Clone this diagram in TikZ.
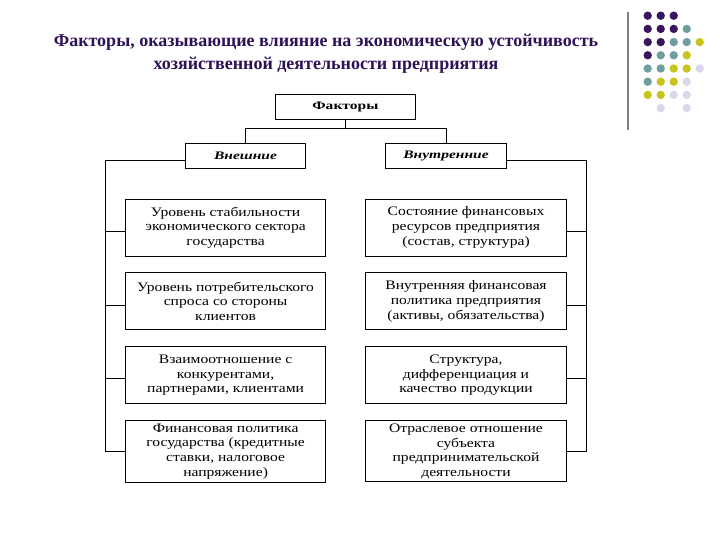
\documentclass[tikz,border=0pt]{standalone}
\usepackage{fontspec}
\setmainfont{Liberation Serif}
\newfontfamily\boxfont[FakeStretch=1.2]{Liberation Serif}
\newfontfamily\headfont[FakeStretch=1.35]{Liberation Serif}
\usetikzlibrary{positioning}

\definecolor{titlepurple}{RGB}{46,18,88}
\definecolor{dotpurple}{RGB}{58,20,92}
\definecolor{dotteal}{RGB}{110,158,158}
\definecolor{dotyellow}{RGB}{200,196,30}
\definecolor{dotlilac}{RGB}{216,216,234}

\begin{document}
\begin{tikzpicture}[
    x=1pt, y=-1pt,
    node distance=16pt and 40pt,
    box/.style={rectangle, draw, line width=0.9pt, inner xsep=0pt, inner ysep=3pt, align=center},
    headbox/.style={box, minimum height=25pt, font=\headfont\fontsize{11.5}{13}\selectfont\bfseries},
    factbox/.style={box, minimum width=200pt, minimum height=57pt, font=\boxfont\fontsize{13}{14.7}\selectfont},
    line/.style={line width=0.8pt}
]
\useasboundingbox (0,0) rectangle (720,540);

% Title and decoration
\node[font=\fontsize{18}{23}\selectfont\bfseries, text=titlepurple, align=center] (title) at (326,54)
    {Факторы, оказывающие влияние на экономическую устойчивость\\хозяйственной деятельности предприятия};
\draw[gray, line width=2pt] (627.5,12) -- (627.5,130);
\foreach \c/\r/\col in {0/0/dotpurple, 1/0/dotpurple, 2/0/dotpurple,
    0/1/dotpurple, 1/1/dotpurple, 2/1/dotpurple, 3/1/dotteal,
    0/2/dotpurple, 1/2/dotpurple, 2/2/dotteal, 3/2/dotteal, 4/2/dotyellow,
    0/3/dotpurple, 1/3/dotteal, 2/3/dotteal, 3/3/dotyellow,
    0/4/dotteal, 1/4/dotteal, 2/4/dotyellow, 3/4/dotyellow, 4/4/dotlilac,
    0/5/dotteal, 1/5/dotyellow, 2/5/dotyellow, 3/5/dotlilac,
    0/6/dotyellow, 1/6/dotyellow, 2/6/dotlilac, 3/6/dotlilac,
    1/7/dotlilac, 3/7/dotlilac}
    \fill[\col] (647.7+13*\c, 15.7+13.2*\r) circle (4.2);

% Nodes
\node[headbox, minimum width=140pt] (fak) at (345.4,107) {Факторы};
\node[headbox, minimum width=120pt] (ext) at (245.5,156) {\itshape Внешние};
\node[headbox, minimum width=121pt] (int) at (446,156) {\itshape Внутренние};

\node[factbox] (e1) at (225.6,227.5) {Уровень стабильности\\экономического сектора\\государства};
\node[factbox, below=of e1] (e2) {Уровень потребительского\\спроса со стороны\\клиентов};
\node[factbox, below=of e2] (e3) {Взаимоотношение с\\конкурентами,\\партнерами, клиентами};
\node[factbox, below=of e3] (e4) {Финансовая политика\\государства (кредитные\\ставки, налоговое\\напряжение)};

\node[factbox, minimum width=201pt] (i1) at (466,227.5) {Состояние финансовых\\ресурсов предприятия\\(состав, структура)};
\node[factbox, minimum width=201pt, below=of i1] (i2) {Внутренняя финансовая\\политика предприятия\\(активы, обязательства)};
\node[factbox, minimum width=201pt, below=of i2] (i3) {Структура,\\дифференциация и\\качество продукции};
\node[factbox, minimum width=201pt, below=of i3] (i4) {Отраслевое отношение\\субъекта\\предпринимательской\\деятельности};

% Connections
\draw[line] (fak.south) -- ++(0,8.5) coordinate (split);
\draw[line] (ext.north) |- (split) -| (int.north);
\coordinate (lbus) at (105.5,160.5);
\coordinate (rbus) at (586.2,160.5);
\draw[line] (ext.west |- lbus) -- (lbus) |- (e4.west);
\draw[line] (int.east |- rbus) -- (rbus) |- (i4.east);
\foreach \i in {1,2,3}{
    \draw[line] ([yshift=-3.5pt]e\i.west) -- ([yshift=-3.5pt]e\i.west -| lbus);
    \draw[line] ([yshift=-3.5pt]i\i.east) -- ([yshift=-3.5pt]i\i.east -| rbus);
}

\end{tikzpicture}
\end{document}
